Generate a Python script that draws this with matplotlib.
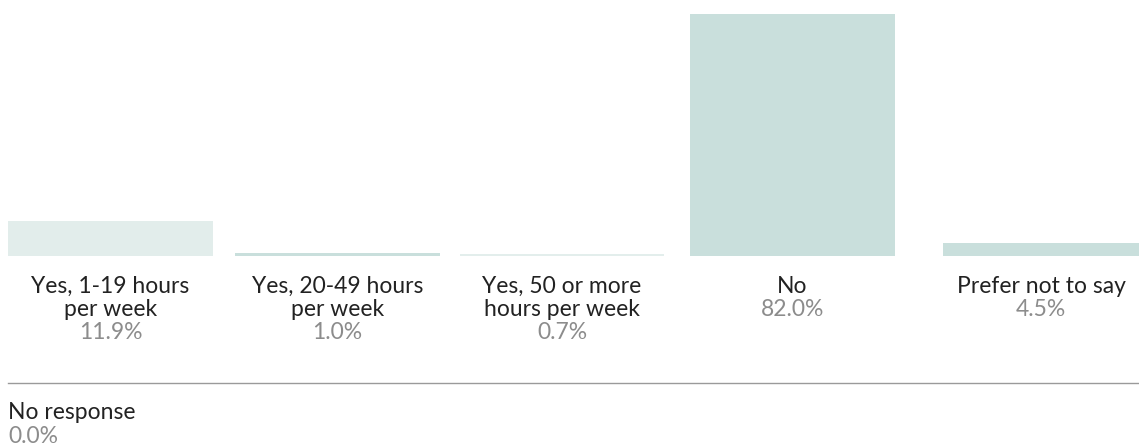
import matplotlib.pyplot as plt

plt.rcParams["font.family"] = ["Lato", "DejaVu Sans"]

labels = ["Yes, 1-19 hours\nper week", "Yes, 20-49 hours\nper week",
          "Yes, 50 or more\nhours per week", "No", "Prefer not to say"]
values = [11.9, 1.0, 0.7, 82.0, 4.5]
colors = ["#e2edeb", "#c9dfdc", "#e3eeec", "#c9dfdc", "#c9dfdc"]
no_response = 0.0

W, H = 1139, 445
fig = plt.figure(figsize=(W / 100, H / 100), dpi=100)

# bar area: pixel x positions, baseline at y=256, tallest bar reaches y=14
ax = fig.add_axes([0, 1 - 256 / H, 1, (256 - 14) / H])
ax.set_xlim(0, W)
ax.set_ylim(0, max(values))
ax.axis("off")

centers = [110.5, 337.5, 562, 792.5, 1041]
widths = [205, 205, 204, 205, 196]
ax.bar(centers, values, width=widths, color=colors, align="center")

label_col = "#222222"
pct_col = "#8c8c8c"
fs = 16.5
step = 23  # px between baselines


def put(x, y, s, color, ha="center"):
    fig.text(x / W, 1 - y / H, s, ha=ha, va="baseline", fontsize=fs, color=color)


for cx, lab, v in zip(centers, labels, values):
    lines = lab.split("\n")
    for i, line in enumerate(lines):
        put(cx, 293 + i * step, line, label_col)
    put(cx, 293 + len(lines) * step, f"{v:.1f}%", pct_col)

# divider and the "No response" note
fig.add_artist(plt.Line2D([8 / W, 1], [1 - 383 / H] * 2, color="#9a9a9a", lw=1))
put(8, 419, "No response", label_col, ha="left")
put(8, 443, f"{no_response:.1f}%", pct_col, ha="left")

fig.savefig("out.png", dpi=100)
